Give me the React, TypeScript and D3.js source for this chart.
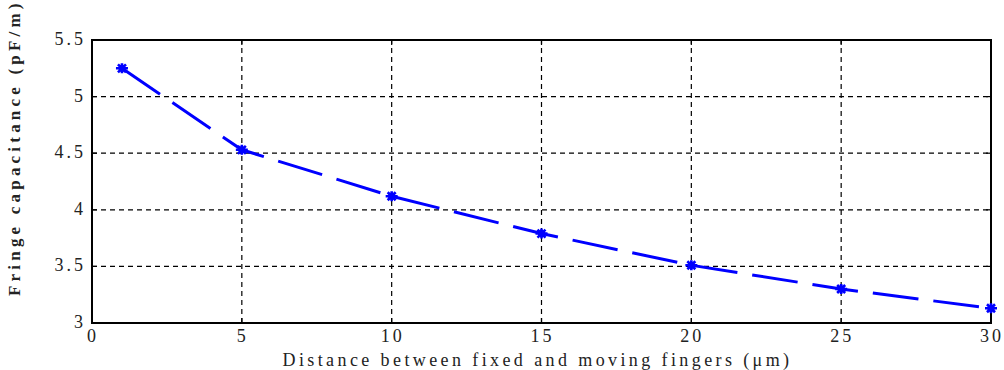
import React from "react";
import * as d3 from "d3";

const xValues = [1, 5, 10, 15, 20, 25, 30];
const capacitance = [5.25, 4.53, 4.12, 3.79, 3.51, 3.30, 3.13];
const xTicks = [0, 5, 10, 15, 20, 25, 30];
const yTicks = [3, 3.5, 4, 4.5, 5, 5.5];
const xLabel = "Distance between fixed and moving fingers (μm)";
const yLabel = "Fringe capacitance (pF/m)";

const W = 1004;
const H = 370;
const M = { left: 92, right: 13, top: 40, bottom: 47 };

export default function App() {
  const x = d3.scaleLinear().domain([0, 30]).range([M.left, W - M.right]);
  const y = d3.scaleLinear().domain([3, 5.5]).range([H - M.bottom, M.top]);
  const line = d3
    .line<number>()
    .x((_, i) => x(xValues[i]))
    .y((d) => y(d));
  const font = "'Times New Roman', 'Liberation Serif', 'DejaVu Serif', serif";
  const x0 = x(0), x1 = x(30), y0 = y(3), y1 = y(5.5);
  const tickStyle = { fontFamily: font, fontSize: 18, letterSpacing: "3px" };
  const asterisk = "M-6,0L6,0M0,-5L0,5M-4,-4L4,4M-4,4L4,-4";
  return (
    <svg
      width={W}
      height={H}
      style={{ position: "absolute", left: 0, top: 0, background: "#fff" }}
    >
      {xTicks.slice(1, -1).map((t) => (
        <line key={"gx" + t} x1={x(t)} x2={x(t)} y1={y0} y2={y1} stroke="#000" strokeWidth={1.2} strokeDasharray="5,4" />
      ))}
      {yTicks.slice(1).map((t) => (
        <line key={"gy" + t} x1={x0} x2={x1} y1={y(t)} y2={y(t)} stroke="#000" strokeWidth={1.2} strokeDasharray="5,4" />
      ))}
      {xTicks.map((t) => (
        <g key={"tx" + t}>
          <line x1={x(t)} x2={x(t)} y1={y0} y2={y0 - 5} stroke="#000" strokeWidth={1.2} />
          <line x1={x(t)} x2={x(t)} y1={y1} y2={y1 + 5} stroke="#000" strokeWidth={1.2} />
          <text x={x(t) + 1} y={y0 + 19} textAnchor="middle" style={tickStyle} fill="#222">
            {String(t)}
          </text>
        </g>
      ))}
      {yTicks.map((t) => (
        <g key={"ty" + t}>
          <line x1={x0} x2={x0 + 5} y1={y(t)} y2={y(t)} stroke="#000" strokeWidth={1.2} />
          <line x1={x1} x2={x1 - 5} y1={y(t)} y2={y(t)} stroke="#000" strokeWidth={1.2} />
          <text x={x0 - 6} y={y(t) + 5} textAnchor="end" style={tickStyle} fill="#222">
            {String(t)}
          </text>
        </g>
      ))}
      <rect x={x0} y={y1} width={x1 - x0} height={y0 - y1} fill="none" stroke="#000" strokeWidth={2} />
      <path d={line(capacitance) || ""} fill="none" stroke="#0000ff" strokeWidth={3} strokeDasharray="46,15" />
      {capacitance.map((v, i) => (
        <g key={"m" + i} transform={`translate(${x(xValues[i])},${y(v)})`}>
          <circle r={3.5} fill="#0000ff" />
          <path d={asterisk} stroke="#0000ff" strokeWidth={2.6} fill="none" />
        </g>
      ))}
      <text x={(x0 + x1) / 2 - 4} y={H - 4} textAnchor="middle" style={{ fontFamily: font, fontSize: 18, letterSpacing: "3.4px" }} fill="#222">
        {xLabel}
      </text>
      <text
        transform={`translate(20,296) rotate(-90)`}
        textAnchor="start"
        style={{ fontFamily: font, fontWeight: "bold", fontSize: 17, letterSpacing: "4.2px" }}
        fill="#222"
      >
        {yLabel}
      </text>
    </svg>
  );
}
